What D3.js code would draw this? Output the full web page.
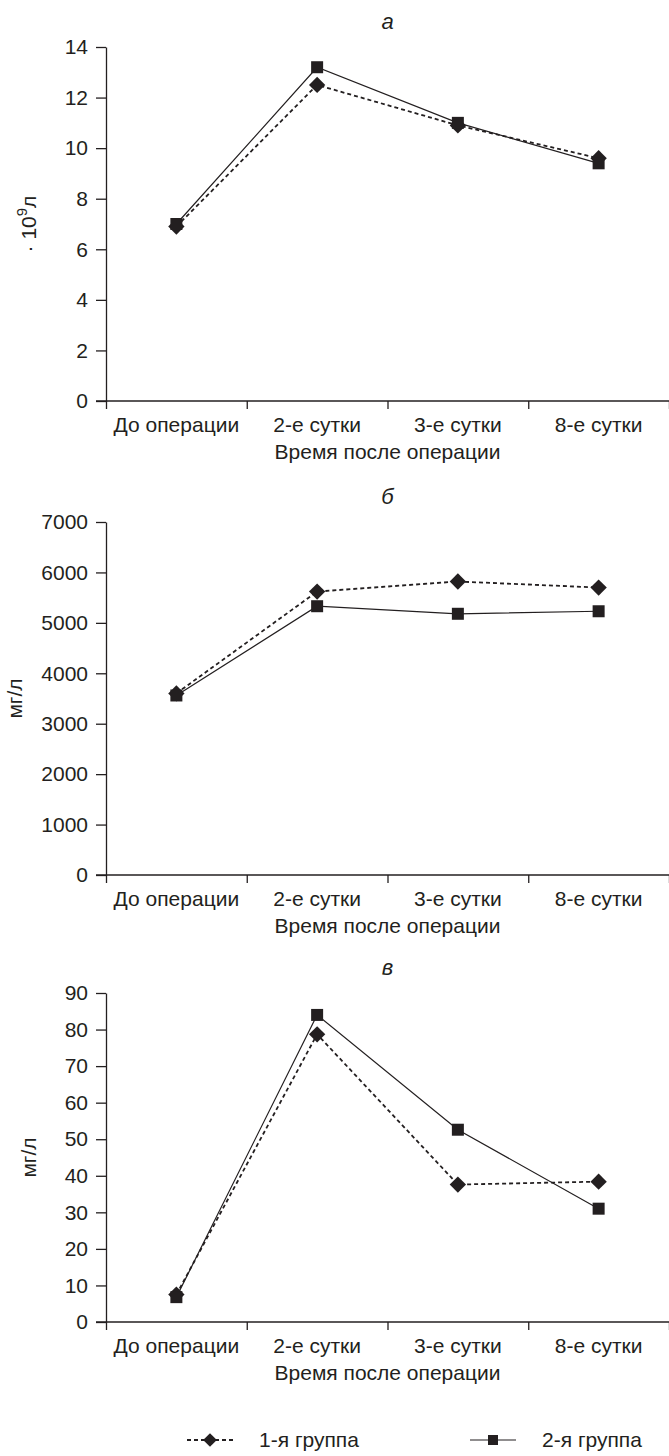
<!DOCTYPE html>
<html>
<head>
<meta charset="utf-8">
<script src="https://cdn.jsdelivr.net/npm/d3@7"></script>
<style>
  body { margin: 0; background: #fff; }
  svg { display: block; font-family: "Liberation Sans", Arial, sans-serif; }
</style>
</head>
<body>
<div id="chart"></div>
<script>
// categories on the x axis
var categories = ["До операции", "2-е сутки", "3-е сутки", "8-е сутки"];
var seriesNames = ["1-я группа", "2-я группа"];

// panel a
var leukGroup1 = [6.9, 12.5, 10.9, 9.6];
var leukGroup2 = [7.0, 13.2, 11.0, 9.4];
var leukTicks = [0, 2, 4, 6, 8, 10, 12, 14];

// panel б
var fibGroup1 = [3600, 5620, 5820, 5700];
var fibGroup2 = [3560, 5330, 5180, 5230];
var fibTicks = [0, 1000, 2000, 3000, 4000, 5000, 6000, 7000];

// panel в
var crpGroup1 = [7.5, 78.7, 37.6, 38.4];
var crpGroup2 = [6.8, 84.0, 52.6, 31.0];
var crpTicks = [0, 10, 20, 30, 40, 50, 60, 70, 80, 90];

var W = 669, H = 1456;
var ink = "#231f20";
var fs = "21px";

var svg = d3.select("#chart").append("svg")
    .attr("width", W)
    .attr("height", H);

function drawPanel(opts)
{
    var g = svg.append("g");
    var left = 106, right = 669;

    var x = d3.scaleBand().domain(categories).range([left, right]);
    var xEdge = d3.scaleLinear().domain([0, categories.length]).range([left, right]);
    var y = d3.scaleLinear().domain([0, d3.max(opts.ticks)]).range([opts.bottom, opts.top]);
    var cx = function(d, i) { return x(categories[i]) + x.bandwidth() / 2; };

    // title letter
    g.append("text")
        .attr("x", (left + right) / 2)
        .attr("y", opts.top - 18)
        .attr("text-anchor", "middle")
        .style("font-style", "italic")
        .style("font-size", "22px")
        .style("fill", ink)
        .text(opts.title);

    // y axis
    var yAxis = g.append("g")
        .attr("transform", "translate(" + left + ",0)")
        .call(d3.axisLeft(y).tickValues(opts.ticks).tickFormat(d3.format("d"))
              .tickSize(10).tickSizeOuter(0).tickPadding(8));
    yAxis.selectAll("text").style("font-size", fs).style("fill", ink);

    // x axis: boundary ticks
    var xAxis = g.append("g")
        .attr("transform", "translate(0," + opts.bottom + ")")
        .call(d3.axisBottom(xEdge).ticks(4).tickFormat("").tickSize(8).tickSizeOuter(0));
    xAxis.select(".domain").attr("d", "M" + (left - 10) + ",0H" + right);

    // x axis: category labels
    var xLabels = g.append("g")
        .attr("transform", "translate(0," + opts.bottom + ")")
        .call(d3.axisBottom(x).tickSize(0).tickPadding(16));
    xLabels.select(".domain").remove();
    xLabels.selectAll("text").style("font-size", fs).style("fill", ink);

    g.selectAll(".domain, .tick line").attr("stroke", ink).attr("stroke-width", 1.3);

    // axis titles
    g.append("text")
        .attr("x", (left + right) / 2)
        .attr("y", opts.bottom + 58)
        .attr("text-anchor", "middle")
        .style("font-size", fs)
        .style("fill", ink)
        .text("Время после операции");

    var yt = g.append("text")
        .attr("transform", "translate(" + opts.labelX + "," + ((opts.top + opts.bottom) / 2) + ") rotate(-90)")
        .attr("text-anchor", "middle")
        .style("font-size", fs)
        .style("fill", ink);
    if (opts.sup) {
        yt.append("tspan").text("· 10");
        yt.append("tspan").attr("dy", -9).style("font-size", "15px").text(opts.sup);
        yt.append("tspan").attr("dy", 9).text("л");
    } else {
        yt.text(opts.unit);
    }

    var line = d3.line().x(cx).y(function(d) { return y(d); });

    // group 1 - dashed with diamonds
    g.append("path")
        .datum(opts.s1)
        .attr("d", line)
        .attr("fill", "none")
        .attr("stroke", ink)
        .attr("stroke-width", 1.8)
        .attr("stroke-dasharray", "4,3");
    // group 2 - solid with squares
    g.append("path")
        .datum(opts.s2)
        .attr("d", line)
        .attr("fill", "none")
        .attr("stroke", ink)
        .attr("stroke-width", 1.2);

    g.selectAll(".diamond")
        .data(opts.s1)
      .enter().append("path")
        .attr("class", "diamond")
        .attr("transform", function(d, i) { return "translate(" + cx(d, i) + "," + y(d) + ")"; })
        .attr("d", d3.symbol().type(d3.symbolDiamond2).size(170))
        .attr("fill", ink);

    g.selectAll(".square")
        .data(opts.s2)
      .enter().append("rect")
        .attr("class", "square")
        .attr("x", function(d, i) { return cx(d, i) - 6; })
        .attr("y", function(d) { return y(d) - 6; })
        .attr("width", 12)
        .attr("height", 12)
        .attr("fill", ink);
}

drawPanel({ title: "а", top: 47, bottom: 401, ticks: leukTicks, s1: leukGroup1, s2: leukGroup2, sup: "9", labelX: 36 });
drawPanel({ title: "б", top: 522, bottom: 875, ticks: fibTicks, s1: fibGroup1, s2: fibGroup2, unit: "мг/л", labelX: 22 });
drawPanel({ title: "в", top: 993, bottom: 1322, ticks: crpTicks, s1: crpGroup1, s2: crpGroup2, unit: "мг/л", labelX: 36 });

// legend
var legend = svg.append("g").attr("transform", "translate(0,1440)");
var legendItems = [
    { name: seriesNames[0], x: 187, dash: "4,3", width: 1.8, shape: "diamond" },
    { name: seriesNames[1], x: 470, dash: null, width: 1.2, shape: "square" }
];
var li = legend.selectAll(".item")
    .data(legendItems)
  .enter().append("g")
    .attr("class", "item")
    .attr("transform", function(d) { return "translate(" + d.x + ",0)"; });
li.append("line")
    .attr("x1", 0).attr("x2", 46)
    .attr("stroke", ink)
    .attr("stroke-width", function(d) { return d.width; })
    .attr("stroke-dasharray", function(d) { return d.dash; });
li.filter(function(d) { return d.shape == "diamond"; }).append("path")
    .attr("transform", "translate(23,0)")
    .attr("d", d3.symbol().type(d3.symbolDiamond2).size(120))
    .attr("fill", ink);
li.filter(function(d) { return d.shape == "square"; }).append("rect")
    .attr("x", 18).attr("y", -5).attr("width", 10).attr("height", 10)
    .attr("fill", ink);
li.append("text")
    .attr("x", 72)
    .attr("dy", "0.35em")
    .style("font-size", fs)
    .style("fill", ink)
    .text(function(d) { return d.name; });
</script>
</body>
</html>
